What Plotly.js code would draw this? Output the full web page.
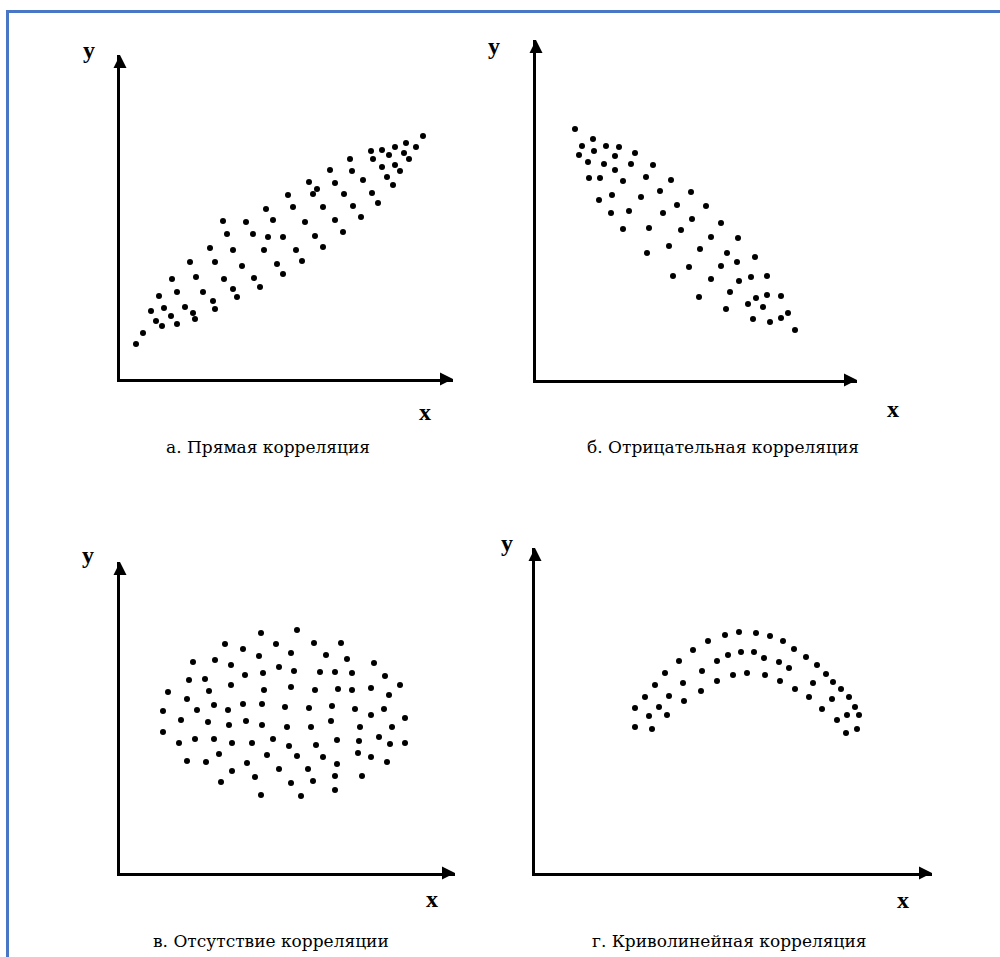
<!DOCTYPE html>
<html>
<head>
<meta charset="utf-8">
<script src="https://cdn.plot.ly/plotly-3.0.1.min.js"></script>
<style>body{margin:0;background:#fff}</style>
</head>
<body>
<div id="myPlot" style="width:1000px;height:957px"></div>
<script>
// а. Прямая корреляция
const aX = [16,23,31,36,42,44,39,51,57,52,57,65,73,75,70,76,83,93,95,90,95,104,113,113,117,122,107,103,126,133,134,140,144,146,148,153,157,163,163,168,173,176,182,185,189,193,197,195,203,203,210,215,215,224,223,230,232,233,241,243,251,253,252,258,262,262,267,269,273,275,275,280,284,286,289,296,303];
const aY = [35,46,68,58,53,71,83,63,55,100,87,72,66,60,117,102,87,78,70,131,117,100,129,90,82,113,145,158,157,145,101,92,129,170,142,159,115,142,105,184,172,129,118,157,197,185,190,143,172,132,209,196,159,185,147,220,208,173,162,199,228,220,186,176,229,212,202,224,194,232,214,208,226,236,220,232,243];

// б. Отрицательная корреляция
const bX = [39,57,46,58,70,83,43,79,99,52,68,95,117,79,53,64,87,110,135,63,76,105,124,155,75,93,127,141,170,156,87,113,145,185,175,202,111,133,164,191,153,185,201,219,137,175,203,215,231,163,194,220,231,245,212,227,190,217,234,245,252,259];
const bY = [251,241,234,229,234,233,225,224,227,218,216,216,215,210,202,202,199,203,200,180,185,183,189,188,167,169,167,175,174,161,151,152,150,157,143,142,127,134,131,127,113,114,118,123,104,101,99,103,104,83,88,82,85,84,76,73,71,61,58,62,67,50];

// в. Отсутствие корреляции
const cX = [141,177,105,123,156,194,221,73,95,111,139,171,206,227,254,159,69,85,125,143,174,200,215,232,265,48,89,111,144,171,195,218,232,251,280,67,269,43,77,94,108,123,142,165,189,212,235,264,251,285,61,88,109,126,142,167,191,211,240,272,43,59,75,94,112,132,153,169,196,217,239,259,270,285,99,147,177,203,238,251,67,86,267,127,217,112,159,188,101,135,171,193,215,242,141,181,215];
const cY = [240,243,229,224,229,230,230,211,213,208,217,220,218,214,210,206,193,194,198,200,202,201,201,200,197,181,182,188,183,186,183,184,183,185,188,174,178,162,163,168,163,169,169,166,165,167,164,164,158,155,153,151,148,152,148,146,146,152,146,146,141,130,134,134,130,130,134,127,128,133,132,136,129,130,119,118,117,116,120,116,112,111,111,110,109,102,104,104,91,96,90,92,97,97,78,77,83];

// г. Криволинейная корреляция
const dX = [100,110,120,130,144,158,173,190,204,221,235,248,259,271,282,291,298,306,314,320,324,114,124,134,148,167,182,193,206,219,229,244,254,278,297,312,322,100,117,132,149,166,182,198,212,230,245,260,274,287,302,311];
const dY = [165,176,188,200,212,223,232,238,241,240,237,232,224,216,208,199,191,184,176,166,158,157,166,177,190,202,212,218,221,221,215,211,205,190,174,158,144,146,144,158,172,182,192,198,200,198,192,184,176,164,153,140];

const captions = ["а. Прямая корреляция", "б. Отрицательная корреляция",
                  "в. Отсутствие корреляции", "г. Криволинейная корреляция"];

const W = 1000, H = 957;
function px(x) { return x / W; }
function py(y) { return 1 - y / H; }

// panel frames in page pixels: origin (l, b), arrow tips (r, t), label and caption centres
const panels = [
  {l:120, b:379, r:453, t:55,  yl:[89,50],  xl:[425,412], cap:[268,447], xs:aX, ys:aY},
  {l:536, b:380, r:857, t:40,  yl:[494,46], xl:[893,409], cap:[723,447], xs:bX, ys:bY},
  {l:120, b:873, r:455, t:562, yl:[88,555], xl:[432,899], cap:[271,941], xs:cX, ys:cY},
  {l:535, b:873, r:932, t:548, yl:[507,543], xl:[903,900], cap:[729,941], xs:dX, ys:dY}
];

const serif = "Liberation Serif, Times New Roman, serif";
const capFont = "DejaVu Serif, serif";
const data = [];
const layout = {
  width: W, height: H,
  margin: {l:0, r:0, t:0, b:0},
  paper_bgcolor: "#fff", plot_bgcolor: "rgba(0,0,0,0)",
  showlegend: false,
  annotations: [],
  shapes: [
    // blue frame
    {type:"line", xref:"paper", yref:"paper", x0:px(7.5), x1:px(7.5), y0:py(10), y1:0, line:{color:"#4a76c6", width:3}},
    {type:"line", xref:"paper", yref:"paper", x0:px(6), x1:1, y0:py(11.5), y1:py(11.5), line:{color:"#4a76c6", width:3}}
  ]
};

function label(pos, text, font) {
  return {xref:"paper", yref:"paper", x:px(pos[0]), y:py(pos[1]),
          xanchor:"center", yanchor:"middle", text:text, showarrow:false, font:font};
}

panels.forEach(function(p, i) {
  const n = i === 0 ? "" : String(i + 1);
  data.push({
    x: p.xs, y: p.ys,
    xaxis: "x" + n, yaxis: "y" + n,
    type: "scatter", mode: "markers",
    cliponaxis: false,
    marker: {color: "#000", size: 6, symbol: "circle"},
    hoverinfo: "skip"
  });
  const common = {
    showline: true, linecolor: "#000", linewidth: 3,
    showgrid: false, zeroline: false, ticks: "", showticklabels: false,
    fixedrange: true
  };
  layout["xaxis" + n] = Object.assign({}, common, {
    domain: [px(p.l), px(p.r)], range: [0, p.r - p.l], anchor: "y" + n
  });
  layout["yaxis" + n] = Object.assign({}, common, {
    domain: [py(p.b), py(p.t)], range: [0, p.b - p.t], anchor: "x" + n
  });
  const arrow = {xref:"paper", yref:"paper", text:"", showarrow:true,
                 arrowhead:2, arrowsize:1.3, arrowwidth:2, arrowcolor:"#000"};
  layout.annotations.push(Object.assign({}, arrow, {x:px(p.r), y:py(p.b), ax:-12, ay:0}));
  layout.annotations.push(Object.assign({}, arrow, {x:px(p.l), y:py(p.t), ax:0, ay:12}));
  layout.annotations.push(label(p.yl, "<b>y</b>", {family:serif, size:24, color:"#000"}));
  layout.annotations.push(label(p.xl, "<b>x</b>", {family:serif, size:24, color:"#000"}));
  layout.annotations.push(label(p.cap, captions[i], {family:capFont, size:17, color:"#000"}));
});

Plotly.newPlot("myPlot", data, layout, {displayModeBar: false, staticPlot: true});
</script>
</body>
</html>
